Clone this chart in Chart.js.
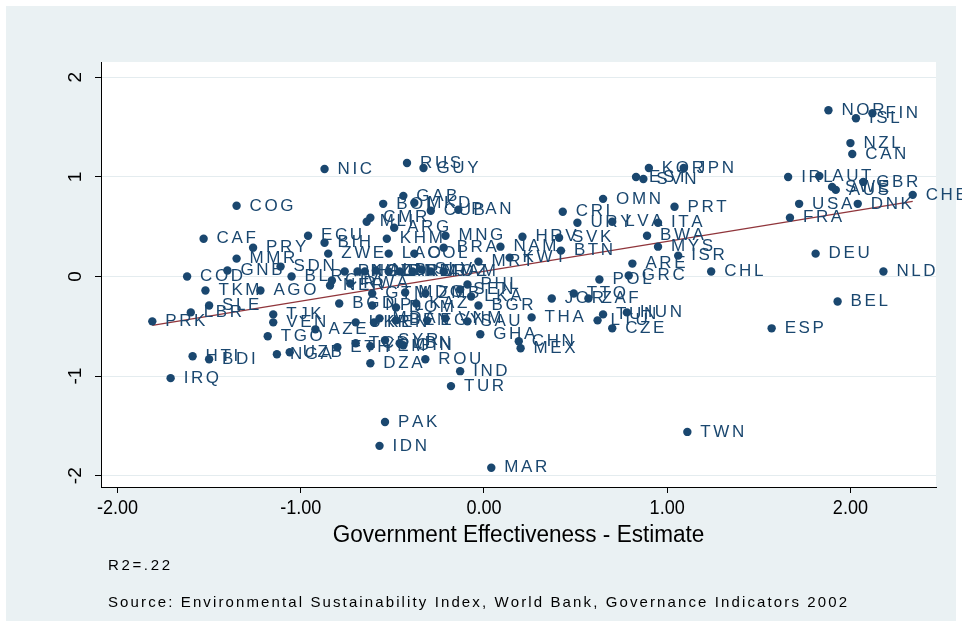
<!DOCTYPE html>
<html><head><meta charset="utf-8">
<script src="https://cdn.jsdelivr.net/npm/chart.js@4.4.1/dist/chart.umd.min.js"></script>
<style>
html,body{margin:0;padding:0;background:#ffffff;}
canvas{display:block;}
</style></head><body>
<canvas id="c" width="962" height="627"></canvas>
<script>
// Country codes, World Bank government effectiveness (x) and ESI score (y), 2002
const countries = [
 'NOR','ISL','FIN','NZL','CAN','KOR','JPN','EST','SVN','IRL','AUT','GBR','SWE','AUS','CHE','USA','DNK','OMN','PRT','FRA',
 'DEU','CHL','NLD','BEL','ESP','TWN','MAR','PAK','IDN','TUR','IND','ROU','DZA','CRI','URY','LVA','ITA','HRV','SVK','BWA',
 'MYS','ISR','BTN','NAM','MRT','KWT','ARE','GRC','POL','TTO','ZAF','JOR','THA','HUN','TUN','LTU','CZE','CHN','MEX','GHA',
 'SAU','BGR','LKA','SEN','PHL','COG','CAF','PRY','MMR','GNB','COD','SDN','BLR','TKM','AGO','PRK','LBR','SLE','HTI','BDI',
 'IRQ','TJK','VEN','TGO','NGA','UZB','AZE','NIC','RUS','GUY','GAB','BOL','MKD','CUB','PAN','CMR','MLI','ARG','ECU','KHM',
 'MNG','BIH','BRA','ZWE','LAO','COL','NER','RWA','PNG','ARM','MOZ','HND','GTM','MDG','DOM','BEN','EGY','UKR','KEN','ETH',
 'SYR','LBN','YEM','TCD','KGZ','ALB','IRN','PER','SLV','JAM','BGD','NPL','KAZ','MDA','VNM','GIN','CIV','ZMB'
];
const govEffectiveness = [
 1.88,2.03,2.12,2.00,2.01,0.90,1.09,0.83,0.87,1.66,1.83,2.07,1.90,1.92,2.34,1.72,2.04,0.65,1.04,1.67,
 1.81,1.24,2.18,1.93,1.57,1.11,0.04,-0.54,-0.57,-0.18,-0.13,-0.32,-0.62,0.43,0.51,0.70,0.95,0.21,0.41,0.89,
 0.95,1.06,0.42,0.09,-0.03,0.14,0.81,0.79,0.63,0.49,0.57,0.37,0.26,0.78,0.65,0.62,0.70,0.19,0.20,-0.02,
 -0.09,-0.03,-0.07,-0.13,-0.09,-1.35,-1.53,-1.26,-1.35,-1.40,-1.62,-1.11,-1.05,-1.52,-1.22,-1.81,-1.60,-1.50,-1.59,-1.50,
 -1.71,-1.15,-1.15,-1.18,-1.13,-1.06,-0.92,-0.87,-0.42,-0.33,-0.44,-0.55,-0.38,-0.29,-0.14,-0.62,-0.64,-0.49,-0.96,-0.53,
 -0.21,-0.87,-0.22,-0.85,-0.52,-0.38,-0.84,-0.73,-0.76,-0.46,-0.29,-0.65,-0.61,-0.43,-0.48,-0.48,-0.31,-0.70,-0.60,-0.80,
 -0.54,-0.46,-0.62,-0.70,-0.69,-0.59,-0.52,-0.39,-0.34,-0.22,-0.79,-0.61,-0.37,-0.57,-0.21,-0.44,-0.83,-0.32
];
const esiScore = [
 1.67,1.59,1.64,1.34,1.23,1.09,1.09,1.00,0.98,1.00,1.01,0.95,0.90,0.87,0.82,0.73,0.73,0.78,0.70,0.59,
 0.23,0.05,0.05,-0.25,-0.52,-1.56,-1.92,-1.46,-1.70,-1.10,-0.95,-0.83,-0.87,0.65,0.54,0.55,0.54,0.40,0.39,0.41,
 0.30,0.21,0.26,0.30,0.15,0.19,0.13,0.01,-0.03,-0.17,-0.22,-0.22,-0.41,-0.36,-0.38,-0.44,-0.52,-0.65,-0.72,-0.58,
 -0.45,-0.29,-0.20,-0.13,-0.08,0.71,0.38,0.29,0.18,0.06,0.00,0.10,0.00,-0.14,-0.14,-0.45,-0.36,-0.29,-0.80,-0.83,
 -1.02,-0.38,-0.46,-0.60,-0.78,-0.76,-0.53,1.08,1.14,1.09,0.81,0.73,0.74,0.66,0.67,0.59,0.55,0.49,0.41,0.38,
 0.41,0.34,0.29,0.23,0.23,0.23,-0.09,-0.07,0.05,0.05,0.05,0.05,-0.17,-0.16,-0.31,-0.44,-0.44,-0.46,-0.46,-0.71,
 -0.64,-0.67,-0.70,-0.67,0.05,0.06,0.05,0.05,0.07,0.05,-0.27,-0.29,-0.27,-0.42,-0.42,-0.69,-0.04,-0.17
];
const xTickValues = [-2, -1, 0, 1, 2];
const xTickLabels = ['-2.00', '-1.00', '0.00', '1.00', '2.00'];
const yTickValues = [-2, -1, 0, 1, 2];
const yTickLabels = ['-2', '-1', '0', '1', '2'];
const xTitle = 'Government Effectiveness - Estimate';
const noteLines = ['R2=.22', 'Source: Environmental Sustainability Index, World Bank, Governance Indicators 2002'];

const NAVY = '#1a476f';
const MAROON = '#90353b';
const BACK = '#eaf1f3';
const SANS = '"Liberation Sans", Arial, sans-serif';

// Ordinary least squares fit, drawn across the observed x range
function olsLine(xs, ys) {
  const n = xs.length;
  const mx = xs.reduce((a, b) => a + b, 0) / n;
  const my = ys.reduce((a, b) => a + b, 0) / n;
  let sxy = 0, sxx = 0;
  for (let i = 0; i < n; i++) { sxy += (xs[i] - mx) * (ys[i] - my); sxx += (xs[i] - mx) ** 2; }
  const b = sxy / sxx, a = my - b * mx;
  const lo = Math.min(...xs), hi = Math.max(...xs);
  return [{x: lo, y: a + b * lo}, {x: hi, y: a + b * hi}];
}

const points = countries.map((c, i) => ({x: govEffectiveness[i], y: esiScore[i], code: c}));

// Text with extra tracking between glyphs
function spacedText(ctx, text, x, y, spacing) {
  let cx = x;
  ctx.textAlign = 'left';
  [...text].forEach(ch => { ctx.fillText(ch, cx, y); cx += ctx.measureText(ch).width + spacing; });
}
// Tracked text spread over a given width
function trackedToWidth(ctx, text, x, y, width) {
  const chars = [...text];
  const w = chars.reduce((s, ch) => s + ctx.measureText(ch).width, 0);
  spacedText(ctx, text, x, y, (width - w) / (chars.length - 1));
}
// Condensed text: squeezed horizontally by a fixed factor
function condensed(ctx, text, x, y, sx, align) {
  const w = ctx.measureText(text).width * sx;
  const left = align === 'center' ? x - w / 2 : x;
  ctx.save();
  ctx.translate(left, y);
  ctx.scale(sx, 1);
  ctx.textAlign = 'left';
  ctx.fillText(text, 0, 0);
  ctx.restore();
}

const frame = {
  id: 'frame',
  beforeDraw(chart) {
    const {ctx, chartArea: a} = chart;
    ctx.save();
    ctx.fillStyle = '#ffffff';
    ctx.fillRect(0, 0, chart.width, chart.height);
    ctx.fillStyle = BACK;
    ctx.fillRect(6, 6, chart.width - 12, chart.height - 12);
    ctx.fillStyle = '#ffffff';
    ctx.fillRect(a.left, a.top, a.right - a.left, a.bottom - a.top);
    ctx.restore();
  },
  afterDraw(chart) {
    const {ctx, chartArea: a} = chart;
    const ys = chart.scales.y, xs = chart.scales.x;
    ctx.save();
    ctx.fillStyle = '#000000';
    ctx.textBaseline = 'middle';
    // rotated y tick labels
    ctx.font = '19px ' + SANS;
    ctx.textAlign = 'center';
    yTickValues.forEach((v, i) => {
      ctx.save();
      ctx.translate(a.left - 25, ys.getPixelForValue(v));
      ctx.rotate(-Math.PI / 2);
      ctx.fillText(yTickLabels[i], 0, 0);
      ctx.restore();
    });
    // x tick labels
    ctx.font = '21px ' + SANS;
    xTickValues.forEach((v, i) => {
      condensed(ctx, xTickLabels[i], xs.getPixelForValue(v), a.bottom + 21, 0.86, 'center');
    });
    // x axis title
    ctx.font = '23px ' + SANS;
    condensed(ctx, xTitle, (a.left + a.right) / 2, a.bottom + 49, 0.98, 'center');
    // notes
    ctx.font = '15px ' + SANS;
    trackedToWidth(ctx, noteLines[0], 108, 566, 62);
    trackedToWidth(ctx, noteLines[1], 108, 603, 739);
    ctx.restore();
  }
};

const labels = {
  id: 'pointLabels',
  afterDatasetsDraw(chart) {
    const {ctx} = chart;
    const meta = chart.getDatasetMeta(1);
    ctx.save();
    ctx.fillStyle = NAVY;
    ctx.font = '17px ' + SANS;
    ctx.textBaseline = 'middle';
    meta.data.forEach((el, i) => spacedText(ctx, points[i].code, el.x + 13, el.y, 2.6));
    ctx.restore();
  }
};

new Chart(document.getElementById('c'), {
  type: 'scatter',
  data: {
    datasets: [
      {
        type: 'line', data: olsLine(govEffectiveness, esiScore),
        borderColor: MAROON, borderWidth: 1.3, pointRadius: 0, fill: false, order: 2
      },
      {
        data: points, backgroundColor: NAVY, borderColor: NAVY,
        pointRadius: 4.2, pointHoverRadius: 4.2, borderWidth: 0, order: 1
      }
    ]
  },
  options: {
    responsive: false, animation: false, devicePixelRatio: 1,
    layout: {padding: {top: 62, right: 26, left: 0, bottom: 0}},
    plugins: {legend: {display: false}, tooltip: {enabled: false}},
    scales: {
      x: {
        type: 'linear', min: -2.090, max: 2.467,
        afterBuildTicks(s) { s.ticks = xTickValues.map(v => ({value: v})); },
        afterFit(s) { s.height = 140; },
        grid: {drawOnChartArea: false, drawTicks: true, tickLength: 6, tickColor: '#000000'},
        border: {display: true, color: '#000000', width: 1},
        ticks: {display: false}
      },
      y: {
        type: 'linear', min: -2.113, max: 2.154,
        afterBuildTicks(s) { s.ticks = yTickValues.map(v => ({value: v})); },
        afterFit(s) { s.width = 101; },
        grid: {color: '#e4ecef', lineWidth: 1, drawTicks: true, tickLength: 6, tickColor: '#000000'},
        border: {display: true, color: '#000000', width: 1},
        ticks: {display: false}
      }
    }
  },
  plugins: [frame, labels]
});
</script>
</body></html>
